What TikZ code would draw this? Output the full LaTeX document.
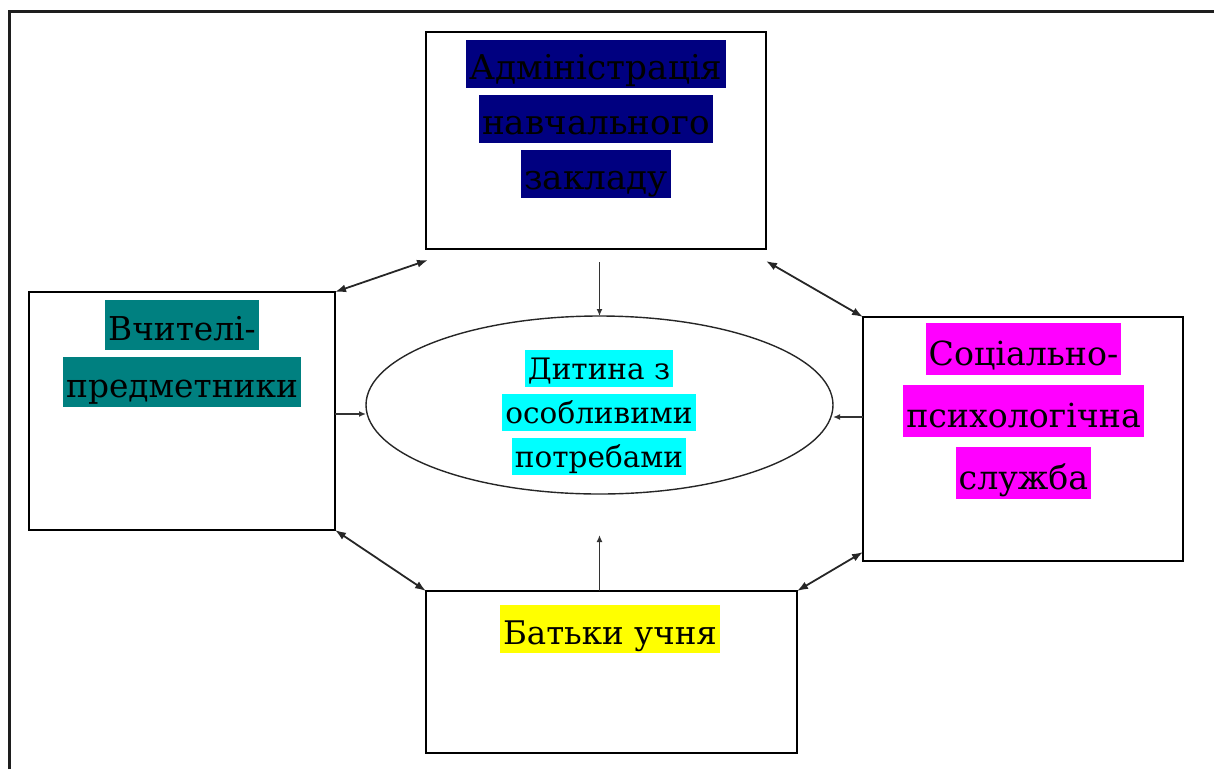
\documentclass[tikz,border=0pt]{standalone}
\usepackage{fontspec}
\setmainfont{DejaVu Serif}
\newfontfamily\serifcyr{DejaVu Serif}
\usetikzlibrary{arrows.meta,calc,shapes.geometric}
\definecolor{navyhl}{RGB}{0,0,128}
\definecolor{tealhl}{RGB}{0,128,128}
\definecolor{maghl}{RGB}{255,0,255}
\definecolor{yelhl}{RGB}{255,255,0}
\definecolor{cyanhl}{RGB}{0,255,255}
\definecolor{framegray}{RGB}{30,30,30}
\newlength\hlht \newlength\hldp
\newcommand\hlline[2]{{\setlength{\fboxsep}{0pt}\colorbox{#1}{\kern3pt\rule[-\hldp]{0pt}{\dimexpr\hlht+\hldp\relax}#2\kern3pt}}}
\newcommand\hlset[4]{\serifcyr\fontsize{#1}{#2}\selectfont\setlength\hlht{#3}\setlength\hldp{#4}}
\begin{document}
\begin{tikzpicture}[x=1pt,y=-1pt,
  box/.style={draw=black,line width=1.6pt,inner sep=0pt,outer sep=0pt,rectangle},
  lbl/.style={inner sep=0pt,outer sep=0pt,anchor=north,align=center,text=black},
  biarrow/.style={line width=1.8pt,draw=black!85,{Latex[length=11pt,width=8pt]}-{Latex[length=11pt,width=8pt]}},
  arr/.style={line width=1.8pt,draw=black!80,-{Latex[length=7pt,width=6pt]}},
  oval/.style={ellipse,draw=black!85,line width=1.4pt,inner sep=0pt,outer sep=0pt}]
\useasboundingbox (0,0) rectangle (1214,769);
% outer frame (partly visible)
\draw[line width=2.6pt,framegray] (9.5,769) -- (9.5,11.5) -- (1214,11.5);
% boxes
\node[box,minimum width=340pt,minimum height=217pt] (admin) at (596,140.5) {};
\node[box,minimum width=306pt,minimum height=238pt] (teach) at (182,411) {};
\node[box,minimum width=320pt,minimum height=244pt] (social) at (1023,439) {};
\node[box,minimum width=371pt,minimum height=162pt] (parents) at (611.5,672) {};
\node[oval,minimum width=467pt,minimum height=178pt] (child) at (599.5,405) {};
% labels
\node[lbl,font={\hlset{34.2}{55}{39pt}{9pt}}] (adminlbl) at (596,40)
  {\hlline{navyhl}{Адміністрація}\\\hlline{navyhl}{навчального}\\\hlline{navyhl}{закладу}};
\node[lbl,font={\hlset{32.8}{57}{40pt}{10pt}}] (teachlbl) at (182,300)
  {\hlline{tealhl}{Вчителі-}\\\hlline{tealhl}{предметники}};
\node[lbl,font={\hlset{33.2}{62}{42pt}{10pt}}] (sociallbl) at (1023.5,323)
  {\hlline{maghl}{Соціально-}\\\hlline{maghl}{психологічна}\\\hlline{maghl}{служба}};
\node[lbl,font={\hlset{32.5}{55}{39pt}{9pt}}] (parentslbl) at (610,605)
  {\hlline{yelhl}{Батьки учня}};
\node[lbl,font={\hlset{29.5}{44}{29pt}{8pt}}] (childlbl) at (599,350)
  {\hlline{cyanhl}{Дитина з}\\\hlline{cyanhl}{особливими}\\\hlline{cyanhl}{потребами}};
% double arrows
\draw[biarrow] (teach.north east) -- ($(admin.south west)+(2,11)$);
\draw[biarrow] ($(admin.south east)+(0,12)$) -- (social.north west);
\draw[biarrow] (teach.south east) -- (parents.north west);
\draw[biarrow] (parents.north east) -- ($(social.south west)+(0,-9)$);
% arrows into the child
\draw[arr] ([yshift=-13pt]admin.south -| child.north) -- (child.north);
\draw[arr] (parents.north -| child.south) -- ([yshift=-41pt]child.south);
\draw[arr] ([yshift=-3pt]teach.east) -- ([yshift=-3pt]teach.east -| child.west);
\draw[arr] ([yshift=-12pt]child.east -| social.west) -- ([yshift=-12pt]child.east);
\end{tikzpicture}
\end{document}
